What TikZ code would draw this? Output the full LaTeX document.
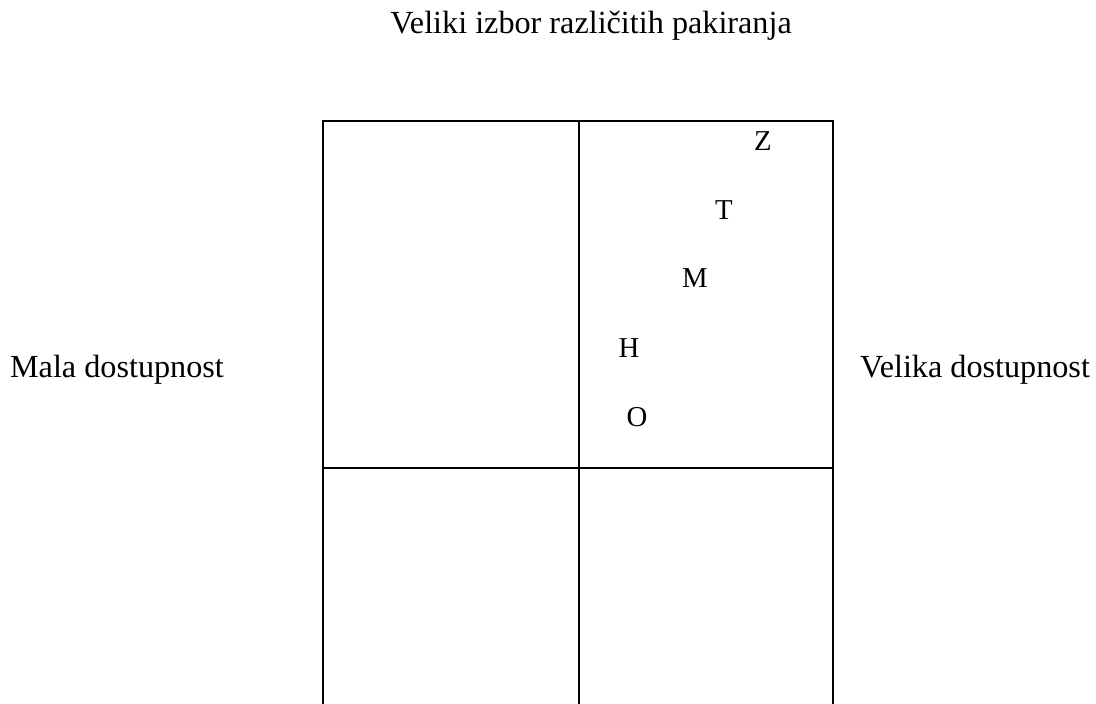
\documentclass[tikz,border=0pt]{standalone}
\usepackage{fontspec}
\setmainfont{Liberation Serif}
\usetikzlibrary{positioning}

\begin{document}
\begin{tikzpicture}
[
x=0.5pt,y=-0.5pt,
grid/.style={line width=1pt,black},
axislabel/.style={font=\fontsize{16.1}{18}\selectfont,inner sep=0pt,anchor=base},
brand/.style={font=\fontsize{14.4}{16}\selectfont,inner sep=0pt,anchor=base},
]
\useasboundingbox (0,0) rectangle (1096,704);

%Place the corners
\coordinate (tl) at (323,121);
\coordinate (tm) at (579,121);
\coordinate (tr) at (833,121);
\coordinate (ml) at (323,468);
\coordinate (mr) at (833,468);
\coordinate (bl) at (323,704);
\coordinate (bm) at (579,704);
\coordinate (br) at (833,704);

%Draw the grid
\draw[grid] (bl) -- (tl) -- (tr) -- (br);
\draw[grid] (tm) -- (bm);
\draw[grid] (ml) -- (mr);

%Place the axis labels
\node[axislabel] (top) at (591,34) {Veliki izbor različitih pakiranja};
\node[axislabel] (left) at (117,378) {Mala dostupnost};
\node[axislabel] (right) at (975,378) {Velika dostupnost};

%Place the letters
\node[brand] (z) at (763,151) {Z};
\node[brand] (t) at (724,220) {T};
\node[brand] (m) at (695,288) {M};
\node[brand] (h) at (629,358) {H};
\node[brand] (o) at (637,427) {O};
\end{tikzpicture}
\end{document}
